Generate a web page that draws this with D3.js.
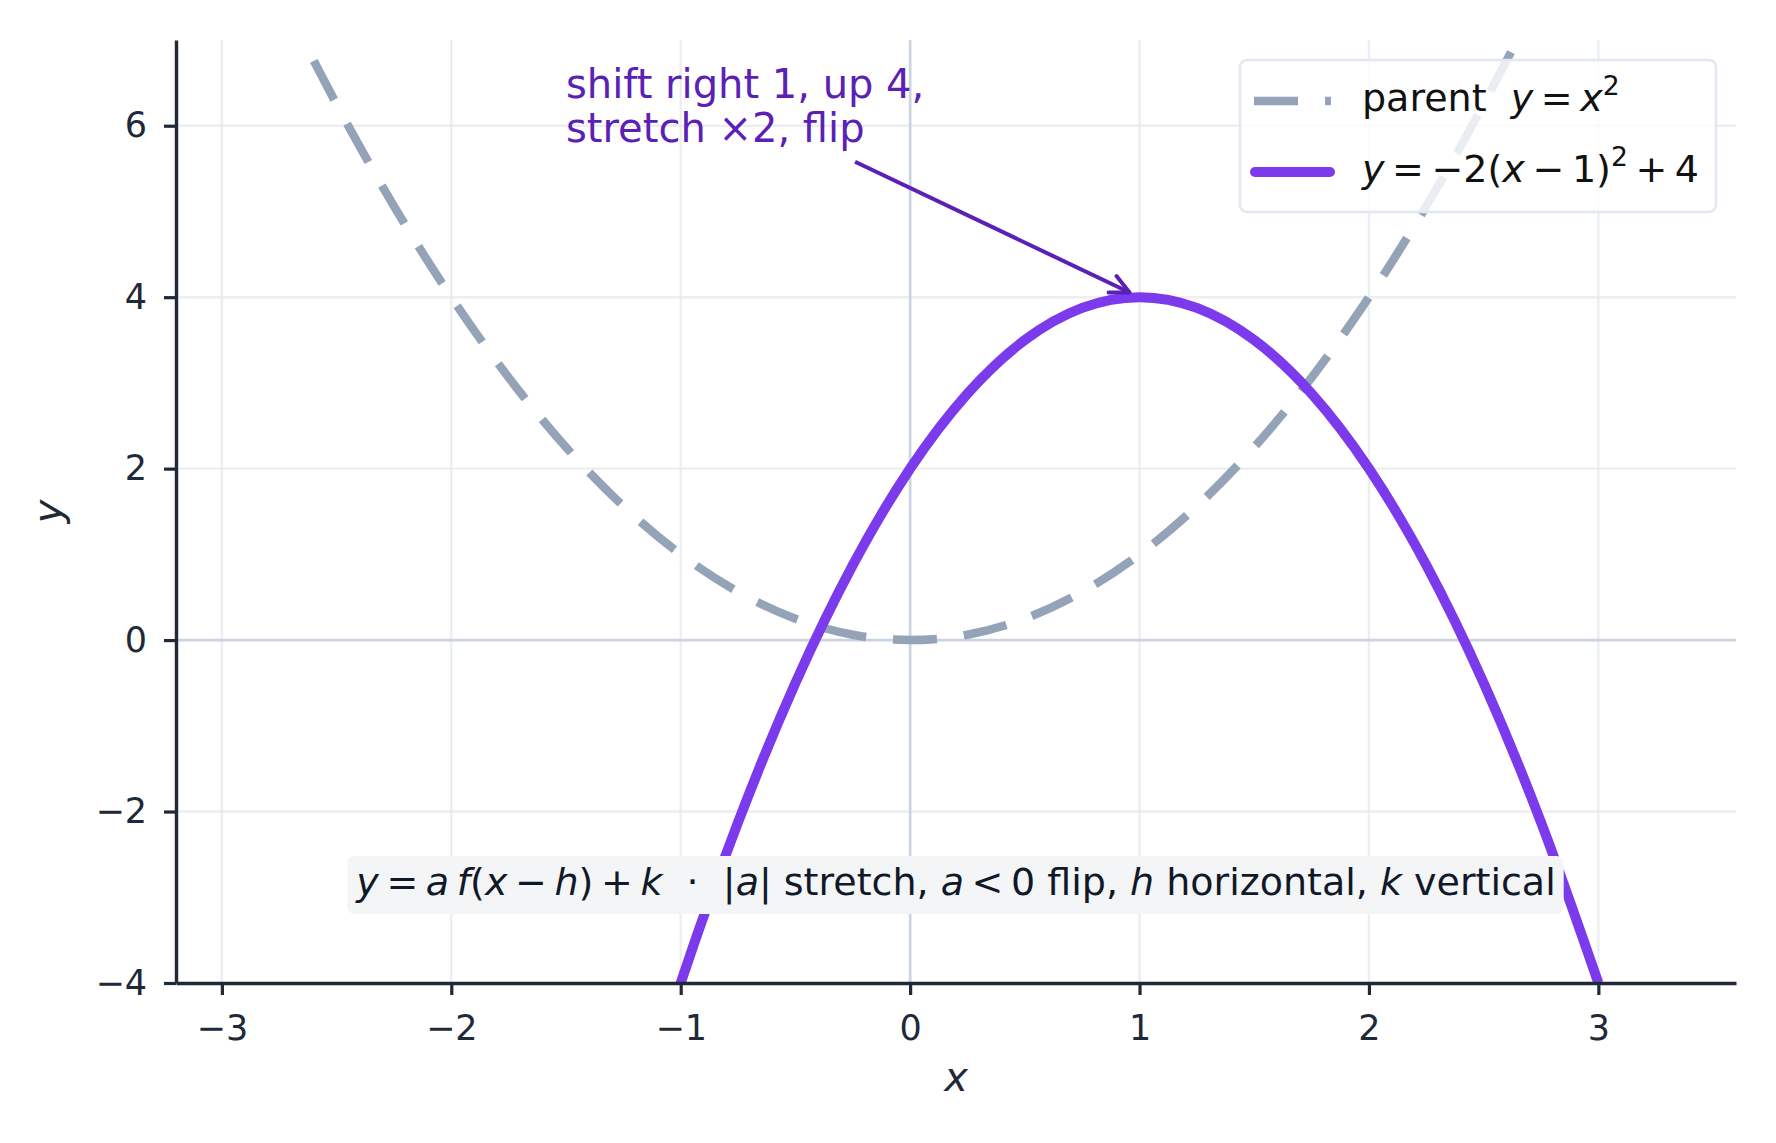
<!DOCTYPE html>
<html>
<head>
<meta charset="utf-8">
<script src="https://cdn.jsdelivr.net/npm/d3@7"></script>
<style>
  body { margin: 0; background: #fff; }
  svg text { font-family: "DejaVu Sans", sans-serif; white-space: pre; }
</style>
</head>
<body>
<svg id="chart"></svg>
<script>
const xs = [-3, -2.75, -2.5, -2.25, -2, -1.75, -1.5, -1.25, -1, -0.75, -0.5, -0.25,
            0, 0.25, 0.5, 0.75, 1, 1.25, 1.5, 1.75, 2, 2.25, 2.5, 2.75, 3];
const parentY = [9, 7.5625, 6.25, 5.0625, 4, 3.0625, 2.25, 1.5625, 1, 0.5625, 0.25, 0.0625,
                 0, 0.0625, 0.25, 0.5625, 1, 1.5625, 2.25, 3.0625, 4, 5.0625, 6.25, 7.5625, 9];
const shiftedY = [-28, -24.125, -20.5, -17.125, -14, -11.125, -8.5, -6.125, -4, -2.125, -0.5, 0.875,
                  2, 2.875, 3.5, 3.875, 4, 3.875, 3.5, 2.875, 2, 0.875, -0.5, -2.125, -4];

const xTicks = [-3, -2, -1, 0, 1, 2, 3];
const yTicks = [-4, -2, 0, 2, 4, 6];
const xDomain = [-3.2, 3.6];
const yDomain = [-4, 7];

// thin space used inside the math parts
const ts = "\u2009";
const legendLabels = [
    [["parent  ", ""], ["y", "i"], [ts + "=" + ts, ""], ["x", "i"], ["2", "sup"]],
    [["y", "i"], [ts + "=" + ts + "\u22122(", ""], ["x", "i"], [ts + "\u2212" + ts + "1)", ""], ["2", "sup"], [ts + "+" + ts + "4", ""]]
];
const noteLines = ["shift right 1, up 4,", "stretch \u00d72, flip"];
const noteAt = [-1.5, 6.32];
const arrowFrom = [-0.24, 5.58];
const arrowTo = [1, 4];
const formula = [["y", "i"], [ts + "=" + ts, ""], ["a", "i"], [ts, ""], ["f", "i"], ["(", ""], ["x", "i"],
    [ts + "\u2212" + ts, ""], ["h", "i"], [")" + ts + "+" + ts, ""], ["k", "i"], ["  \u00b7  |", ""], ["a", "i"],
    ["| stretch, ", ""], ["a", "i"], [ts + "<" + ts + "0 flip, ", ""], ["h", "i"], [" horizontal, ", ""],
    ["k", "i"], [" vertical", ""]];

const W = 1776, H = 1143;
const margin = { top: 40, right: 40, bottom: 160, left: 176 };

const svg = d3.select("#chart").attr("width", W).attr("height", H);
svg.append("rect").attr("width", W).attr("height", H).attr("fill", "#fff");

const x = d3.scaleLinear().domain(xDomain).range([margin.left, W - margin.right]);
const y = d3.scaleLinear().domain(yDomain).range([H - margin.bottom, margin.top]);

svg.append("clipPath").attr("id", "plotArea")
    .append("rect")
    .attr("x", margin.left).attr("y", margin.top)
    .attr("width", W - margin.left - margin.right)
    .attr("height", H - margin.top - margin.bottom);

// grid
const grid = svg.append("g");
grid.selectAll("line.gx").data(xTicks).enter().append("line")
    .attr("x1", d => x(d)).attr("x2", d => x(d))
    .attr("y1", margin.top).attr("y2", H - margin.bottom)
    .attr("stroke", "#e5e7eb").attr("stroke-opacity", 0.7).attr("stroke-width", 2.4);
grid.selectAll("line.gy").data(yTicks).enter().append("line")
    .attr("y1", d => y(d)).attr("y2", d => y(d))
    .attr("x1", margin.left).attr("x2", W - margin.right)
    .attr("stroke", "#e5e7eb").attr("stroke-opacity", 0.7).attr("stroke-width", 2.4);

// zero lines
grid.append("line").attr("x1", x(0)).attr("x2", x(0))
    .attr("y1", margin.top).attr("y2", H - margin.bottom)
    .attr("stroke", "#cbd5e1").attr("stroke-width", 2.6);
grid.append("line").attr("y1", y(0)).attr("y2", y(0))
    .attr("x1", margin.left).attr("x2", W - margin.right)
    .attr("stroke", "#cbd5e1").attr("stroke-width", 2.6);

const line = d3.line()
    .x(d => x(d[0])).y(d => y(d[1]))
    .curve(d3.curveCardinal.tension(0));

const plot = svg.append("g").attr("clip-path", "url(#plotArea)");
plot.append("path")
    .attr("d", line(xs.map((v, i) => [v, parentY[i]])))
    .attr("fill", "none").attr("stroke", "#94a3b8")
    .attr("stroke-width", 8.5).attr("stroke-dasharray", "44,27");
plot.append("path")
    .attr("d", line(xs.map((v, i) => [v, shiftedY[i]])))
    .attr("fill", "none").attr("stroke", "#7c3aed")
    .attr("stroke-width", 10).attr("stroke-linejoin", "round");

// writes mixed italic / superscript pieces into a text element
const writeMath = (textSel, pieces, size) => {
    let raised = false;
    pieces.forEach(([t, s]) => {
        const sp = textSel.append("tspan").text(t);
        if (s === "i") sp.attr("font-style", "italic");
        if (s === "sup") {
            sp.attr("font-size", size * 0.7).attr("dy", -size * 0.42);
            raised = true;
        } else if (raised) {
            sp.attr("dy", size * 0.42);
            raised = false;
        }
    });
};

// axes
const axisX = svg.append("g")
    .attr("transform", `translate(0,${H - margin.bottom})`)
    .call(d3.axisBottom(x).tickValues(xTicks).tickFormat(d3.format("d"))
        .tickSize(12).tickSizeOuter(0).tickPadding(20));
const axisY = svg.append("g")
    .attr("transform", `translate(${margin.left},0)`)
    .call(d3.axisLeft(y).tickValues(yTicks).tickFormat(d3.format("d"))
        .tickSize(12).tickSizeOuter(0).tickPadding(17));
[axisX, axisY].forEach(a => {
    a.select(".domain").attr("stroke", "#1f2937").attr("stroke-width", 3.4);
    a.selectAll(".tick line").attr("stroke", "#1f2937").attr("stroke-width", 3.2);
    a.selectAll(".tick text").attr("fill", "#1f2937").attr("font-size", 35)
        .attr("font-family", "DejaVu Sans");
});

svg.append("text")
    .attr("x", (margin.left + W - margin.right) / 2).attr("y", 1091)
    .attr("text-anchor", "middle").attr("font-size", 40).attr("font-style", "italic")
    .attr("fill", "#1f2937").text("x");
svg.append("text")
    .attr("transform", `translate(62,${(margin.top + H - margin.bottom) / 2}) rotate(-90)`)
    .attr("text-anchor", "middle").attr("font-size", 40).attr("font-style", "italic")
    .attr("fill", "#1f2937").text("y");

// annotation
const note = svg.append("text").attr("font-size", 40).attr("fill", "#5b21b6");
noteLines.forEach((t, i) => {
    note.append("tspan").attr("x", x(noteAt[0])).attr("y", y(noteAt[1]) + i * 44).text(t);
});
const p0 = [x(arrowFrom[0]), y(arrowFrom[1])];
const p1 = [x(arrowTo[0]), y(arrowTo[1])];
const ang = Math.atan2(p1[1] - p0[1], p1[0] - p0[0]);
const tip = [p1[0] - 11 * Math.cos(ang), p1[1] - 11 * Math.sin(ang)];
svg.append("line")
    .attr("x1", p0[0]).attr("y1", p0[1]).attr("x2", tip[0]).attr("y2", tip[1])
    .attr("stroke", "#5b21b6").attr("stroke-width", 4);
const head = [-1, 1].map(s => [tip[0] - 21 * Math.cos(ang + s * 0.45), tip[1] - 21 * Math.sin(ang + s * 0.45)]);
svg.append("path")
    .attr("d", `M${head[0]}L${tip}L${head[1]}`)
    .attr("fill", "none").attr("stroke", "#5b21b6").attr("stroke-width", 4)
    .attr("stroke-linecap", "round").attr("stroke-linejoin", "round");

// formula box
const fbox = svg.append("g");
const fRect = fbox.append("rect").attr("fill", "#f3f5f7").attr("rx", 7);
const fText = fbox.append("text")
    .attr("x", (margin.left + W - margin.right) / 2).attr("y", 895)
    .attr("text-anchor", "middle").attr("font-size", 38).attr("fill", "#111827");
writeMath(fText, formula, 38);
const fb = fText.node().getBBox();
fRect.attr("x", fb.x - 8).attr("width", fb.width + 16).attr("y", 856).attr("height", 58);

// legend
const lg = svg.append("g");
lg.append("rect")
    .attr("x", 1240).attr("y", 60).attr("width", 476).attr("height", 152).attr("rx", 7)
    .attr("fill", "#fff").attr("fill-opacity", 0.8)
    .attr("stroke", "#e2e8f0").attr("stroke-width", 2.5);
lg.append("line").attr("x1", 1254).attr("x2", 1331).attr("y1", 101).attr("y2", 101)
    .attr("stroke", "#94a3b8").attr("stroke-width", 8.5).attr("stroke-dasharray", "44,27");
lg.append("line").attr("x1", 1255).attr("x2", 1330).attr("y1", 172).attr("y2", 172)
    .attr("stroke", "#7c3aed").attr("stroke-width", 10).attr("stroke-linecap", "round");
legendLabels.forEach((pieces, i) => {
    const t = lg.append("text").attr("x", 1362).attr("y", 111 + i * 71)
        .attr("font-size", 38).attr("fill", "#111");
    writeMath(t, pieces, 38);
});
</script>
</body>
</html>
